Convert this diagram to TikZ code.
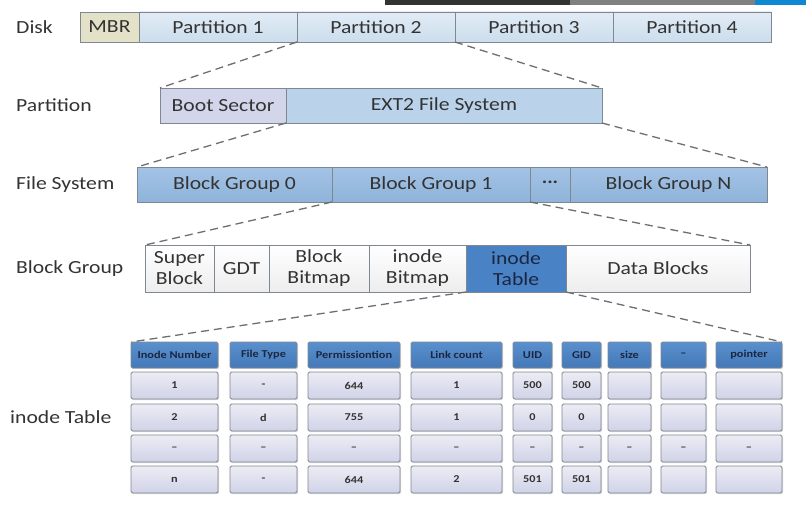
\documentclass[tikz,border=0pt]{standalone}
\usepackage{fontspec}
\setmainfont{Carlito}[FakeStretch=1.17]
\usetikzlibrary{positioning, shadows}

\definecolor{txtgray}{HTML}{333333}
\definecolor{cellline}{HTML}{7F8790}
\definecolor{dashgray}{HTML}{6E6E6E}
\definecolor{mbrfill}{HTML}{E3E2C8}
\definecolor{parttop}{HTML}{E1ECF6}
\definecolor{partbot}{HTML}{CCDDEC}
\definecolor{bootfill}{HTML}{D3D5EB}
\definecolor{extfill}{HTML}{BAD3EA}
\definecolor{fstop}{HTML}{A3C3E5}
\definecolor{fsbot}{HTML}{8FB3DA}
\definecolor{itfill}{HTML}{4A82C6}
\definecolor{headtop}{HTML}{5A90CE}
\definecolor{headbot}{HTML}{4478B8}
\definecolor{bodytop}{HTML}{ECECF4}
\definecolor{bodybot}{HTML}{D0D3E8}
\definecolor{headtext}{HTML}{1B2740}

\tikzset{
    cell/.style={draw=cellline, line width=0.8pt, inner sep=0pt, outer sep=0pt,
        text=txtgray, align=center, font=\fontsize{18.5}{21}\selectfont},
    part/.style={cell, top color=parttop, bottom color=partbot, minimum height=30pt},
    fsrow/.style={cell, top color=fstop, bottom color=fsbot, minimum height=35pt},
    bgrow/.style={cell, top color=white, bottom color=black!7, minimum height=47pt},
    rowlabel/.style={anchor=west, text=txtgray, inner sep=0pt, font=\fontsize{18.5}{21}\selectfont},
    zoomline/.style={draw=dashgray, dash pattern=on 8pt off 5pt, line width=1.3pt},
    thead/.style={draw=cellline, line width=0.8pt, rounded corners=1.5pt, inner sep=0pt, outer sep=0pt,
        top color=headtop, bottom color=headbot,
        drop shadow={opacity=0.3, shadow xshift=1.2pt, shadow yshift=-1.2pt},
        text=headtext, minimum height=26pt, font=\fontsize{10.5}{12}\bfseries},
    tcell/.style={thead, top color=bodytop, bottom color=bodybot,
        text=txtgray, minimum height=27pt}
}

\begin{document}
\begin{tikzpicture}[x=1pt, y=-1pt]
    \useasboundingbox (0,0) rectangle (806,511);
    % screen bar at the top
    \fill[black!80] (385,0) rectangle (570,5);
    \fill[black!50] (570,0) rectangle (755,5);
    \fill[cyan!70!blue] (755,0) rectangle (806,5);

    % disk
    \node[rowlabel] (ldisk) at (16,27) {Disk};
    \node[cell, fill=mbrfill, minimum width=59pt, minimum height=30pt, anchor=west] (mbr) at (80,27) {MBR};
    \node[part, minimum width=158pt, right=0pt of mbr] (p1) {Partition 1};
    \node[part, minimum width=158pt, right=0pt of p1] (p2) {Partition 2};
    \node[part, minimum width=158pt, right=0pt of p2] (p3) {Partition 3};
    \node[part, minimum width=158pt, right=0pt of p3] (p4) {Partition 4};

    % partition
    \node[rowlabel] (lpart) at (16,105.5) {Partition};
    \node[cell, fill=bootfill, minimum width=126pt, minimum height=35pt, anchor=west] (boot) at (160,105.5) {Boot Sector};
    \node[cell, fill=extfill, minimum width=316pt, minimum height=35pt, right=0pt of boot] (ext) {EXT2 File System};

    % file system
    \node[rowlabel] (lfs) at (16,184.5) {File System};
    \node[fsrow, minimum width=195pt, anchor=west] (bg0) at (137,184.5) {Block Group 0};
    \node[fsrow, minimum width=198pt, right=0pt of bg0] (bg1) {Block Group 1};
    \node[fsrow, minimum width=40pt, right=0pt of bg1] (dots) {···};
    \node[fsrow, minimum width=197pt, right=0pt of dots] (bgn) {Block Group N};

    % block group
    \node[rowlabel] (lbg) at (16,268.5) {Block Group};
    \node[bgrow, minimum width=69pt, anchor=west] (super) at (145,268.5) {Super\\Block};
    \node[bgrow, minimum width=55pt, right=0pt of super] (gdt) {GDT};
    \node[bgrow, minimum width=100pt, right=0pt of gdt] (bbmp) {Block\\Bitmap};
    \node[bgrow, minimum width=97pt, right=0pt of bbmp] (ibmp) {inode\\Bitmap};
    \node[bgrow, top color=itfill, bottom color=itfill, minimum width=100pt,
        text=headtext, right=0pt of ibmp] (itab) {inode\\Table};
    \node[bgrow, minimum width=184pt, right=0pt of itab] (data) {Data Blocks};

    % inode table
    \node[rowlabel] (lit) at (10,417) {inode Table};
    \foreach \c/\x/\w/\head/\a/\b/\d/\e in {
        1/131/87/Inode Number/1/2/--/n,
        2/230/67/File Type/-/d/--/-,
        3/308/92/Permissiontion/644/755/--/644,
        4/411/91/Link count/1/1/--/2,
        5/513/39/UID/500/0/--/501,
        6/562/39/GID/500/0/--/501,
        7/608/43/size/{}/{}/--/{},
        8/661/45/--/{}/{}/--/{},
        9/716/66/pointer/{}/{}/--/{}} {
        \node[thead, minimum width=\w pt, anchor=west] (h\c) at (\x,355) {\head};
        \node[tcell, minimum width=\w pt, below=4pt of h\c] (ra\c) {\a};
        \node[tcell, minimum width=\w pt, below=5pt of ra\c] (rb\c) {\b};
        \node[tcell, minimum width=\w pt, below=4pt of rb\c] (rc\c) {\d};
        \node[tcell, minimum width=\w pt, below=4pt of rc\c] (rd\c) {\e};
    }

    % zoom lines
    \draw[zoomline] (p2.south west) -- (boot.north west);
    \draw[zoomline] (p2.south east) -- (ext.north east);
    \draw[zoomline] (boot.south east) -- (bg0.north west);
    \draw[zoomline] (ext.south east) -- (bgn.north east);
    \draw[zoomline] (bg1.south west) -- (super.north west);
    \draw[zoomline] (bg1.south east) -- (data.north east);
    \draw[zoomline] (itab.south west) -- (h1.north west);
    \draw[zoomline] (itab.south east) -- (h9.north east);
\end{tikzpicture}
\end{document}
